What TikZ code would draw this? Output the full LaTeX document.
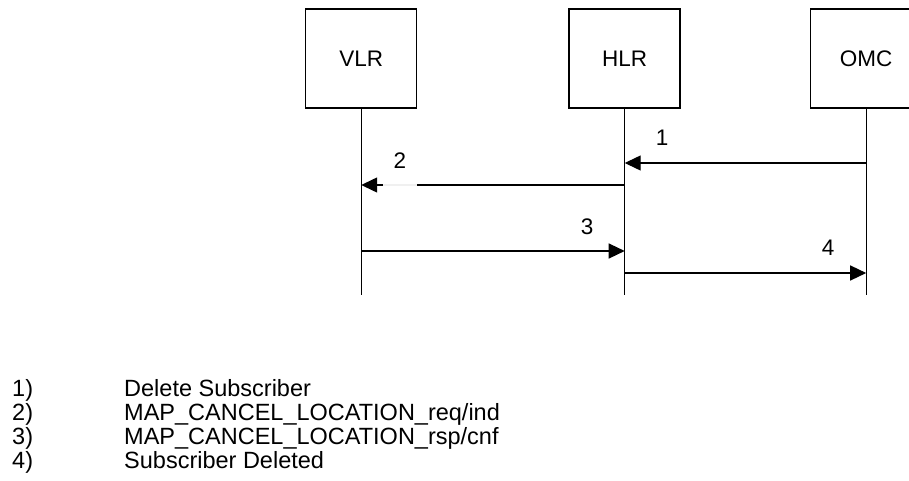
\documentclass[tikz,border=0pt]{standalone}
\usepackage{fontspec}
\setmainfont{Liberation Sans}
\usetikzlibrary{arrows.meta}
\begin{document}
\begin{tikzpicture}[x=1pt, y=-1pt, >={Triangle[length=16pt, width=15pt]},
    entity/.style={draw, line width=1.5pt, minimum width=111pt, minimum height=99pt,
        inner sep=0pt, font=\fontsize{22.5}{24}\selectfont},
    lifeline/.style={line width=1.3pt},
    msg/.style={->, line width=1.3pt},
    msgnum/.style={font=\fontsize{22.5}{24}\selectfont},
    legend/.style={anchor=base west, inner sep=0pt, font=\fontsize{23.5}{24}\selectfont}]
    \clip (0,0) rectangle (909,481);

    % entities
    \node[entity] (vlr) at (361.2,58.5) {VLR};
    \node[entity] (hlr) at (624.7,58.5) {HLR};
    \node[entity] (omc) at (866.2,58.5) {OMC};

    % lifelines
    \coordinate (vlrend) at (vlr.south |- 0,295);
    \coordinate (hlrend) at (hlr.south |- 0,295);
    \coordinate (omcend) at (omc.south |- 0,295);
    \draw[lifeline] (vlr.south) -- (vlrend);
    \draw[lifeline] (hlr.south) -- (hlrend);
    \draw[lifeline] (omc.south) -- (omcend);

    % messages
    \draw[msg] (omc.south |- 0,163) -- (hlr.south |- 0,163);
    \draw[msg] (hlr.south |- 0,185) -- (vlr.south |- 0,185);
    \draw[gray!12, line width=1.4pt] (383,185) -- (417,185);
    \draw[msg] (vlr.south |- 0,251) -- (hlr.south |- 0,251);
    \draw[msg] (hlr.south |- 0,273) -- (omc.south |- 0,273);

    \node[msgnum] (n1) at (662,138) {1};
    \node[msgnum] (n2) at (400,161) {2};
    \node[msgnum] (n3) at (587,227) {3};
    \node[msgnum] (n4) at (828,248) {4};

    % legend
    \foreach \i/\txt [count=\k from 0] in {1/{Delete Subscriber},
        2/{MAP\_CANCEL\_LOCATION\_req/ind},
        3/{MAP\_CANCEL\_LOCATION\_rsp/cnf},
        4/{Subscriber Deleted}} {
        \node[legend] (key\i) at (12,396+24*\k) {\i)};
        \node[legend] (item\i) at (124,396+24*\k) {\txt};
    }
\end{tikzpicture}
\end{document}
